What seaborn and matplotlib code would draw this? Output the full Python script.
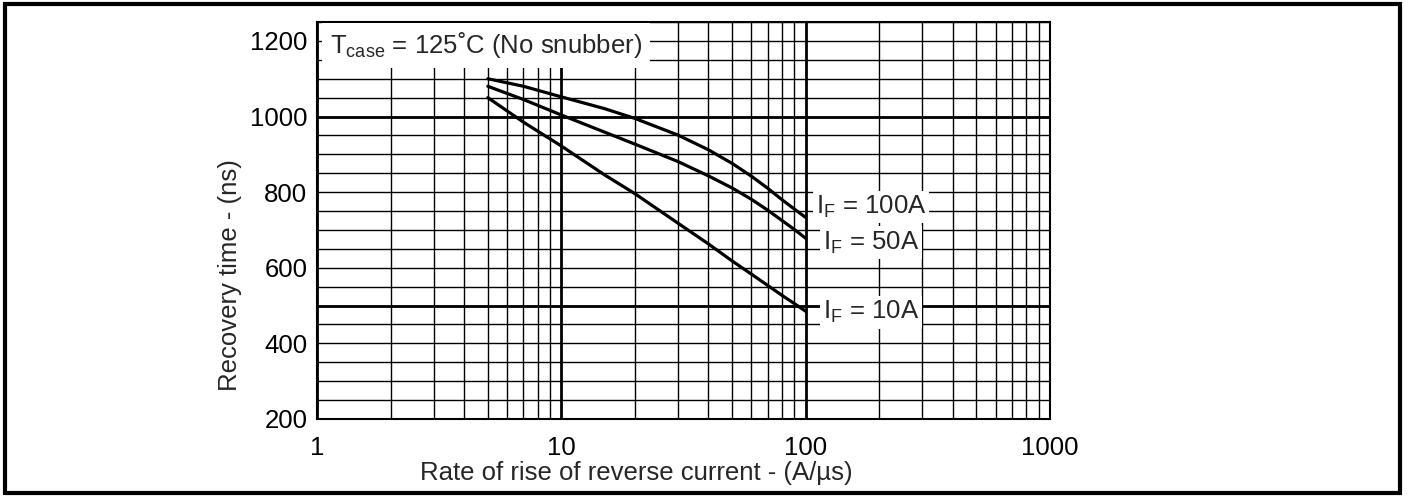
import matplotlib
matplotlib.use("Agg")
import matplotlib.pyplot as plt
import seaborn as sns
import pandas as pd
from matplotlib.patches import Rectangle
from matplotlib.ticker import LogLocator, MultipleLocator, FixedLocator, NullFormatter

# values
rate = [5, 7, 10, 15, 20, 30, 40, 50, 60, 70, 80, 90, 100]  # A/us
t_100a = [1100, 1080, 1052, 1021, 995, 951, 912, 876, 842, 810, 780, 755, 733]  # ns
t_50a = [1080, 1045, 1004, 959, 927, 881, 843, 811, 781, 752, 725, 701, 678]
t_10a = [1050, 985, 922, 846, 796, 718, 663, 618, 583, 553, 527, 505, 485]

curve_names = ["100A", "50A", "10A"]
curve_label_y = [760, 667, 482]
y_ticks = [200, 400, 600, 800, 1000, 1200]
x_ticks = [1, 10, 100, 1000]

df = pd.concat(
    [
        pd.DataFrame({"rate": rate, "time": vals, "curve": name})
        for name, vals in zip(curve_names, [t_100a, t_50a, t_10a])
    ]
)

sns.set_style("white")
plt.rcParams["font.family"] = ["Liberation Sans", "DejaVu Sans"]
plt.rcParams["mathtext.fontset"] = "custom"
plt.rcParams["mathtext.rm"] = "Liberation Sans"
plt.rcParams["mathtext.it"] = "Liberation Sans:italic"
plt.rcParams["mathtext.bf"] = "Liberation Sans:bold"

fig = plt.figure(figsize=(14.09, 4.97), dpi=100)
ax = fig.add_axes([0.225, 0.157, 0.5202, 0.7987])

sns.lineplot(
    data=df,
    x="rate",
    y="time",
    hue="curve",
    palette=["black"] * 3,
    linewidth=2.3,
    legend=False,
    zorder=3,
    ax=ax,
)

ax.set_xscale("log")
ax.set_xlim(1, 1000)
ax.set_ylim(200, 1250)

ax.xaxis.set_major_locator(FixedLocator(x_ticks))
ax.set_xticklabels([str(v) for v in x_ticks])
ax.xaxis.set_minor_locator(LogLocator(base=10, subs=range(2, 10)))
ax.xaxis.set_minor_formatter(NullFormatter())
ax.yaxis.set_major_locator(FixedLocator(y_ticks))
ax.set_yticklabels([str(v) for v in y_ticks])
ax.yaxis.set_minor_locator(MultipleLocator(50))

ax.grid(which="major", axis="x", color="black", linewidth=2.0, zorder=1)
ax.grid(which="minor", axis="x", color="black", linewidth=1.0, zorder=1)
ax.grid(which="both", axis="y", color="black", linewidth=1.0, zorder=1)
for yv in (500, 1000):
    ax.axhline(yv, color="black", linewidth=2.0, zorder=1)
ax.set_axisbelow(True)

ax.tick_params(which="both", length=0, labelsize=18.5, colors="black")
ax.tick_params(axis="x", pad=12)
ax.tick_params(axis="y", pad=7)
for sp in ax.spines.values():
    sp.set_color("black")
    sp.set_linewidth(1.5)

ax.set_xlabel("Rate of rise of reverse current - (A/µs)", fontsize=18.5)
ax.set_ylabel("Recovery time - (ns)", fontsize=18.5)
ax.xaxis.set_label_coords(0.435, -0.107)
ax.yaxis.set_label_coords(-0.102, 0.363)

ax.text(
    1.13, 1188, r"$\mathregular{T_{case}}$ = 125˚C (No snubber)",
    fontsize=18.5, ha="left", va="center", zorder=4,
    bbox=dict(boxstyle="square,pad=0.3", facecolor="white", edgecolor="none"),
)
box = dict(boxstyle="square,pad=0.12", facecolor="white", edgecolor="none")
for name, ly in zip(curve_names, curve_label_y):
    ax.text(
        185, ly, r"$\mathregular{I_F}$ = " + name,
        fontsize=18.5, ha="center", va="center", bbox=box, zorder=4,
    )

# thick outer frame around the whole picture
fig.patches.append(
    Rectangle(
        (5 / 1409, 4 / 497), 1395 / 1409, 489 / 497,
        transform=fig.transFigure, fill=False, edgecolor="black", linewidth=3,
    )
)

fig.savefig("out.png", dpi=100)
